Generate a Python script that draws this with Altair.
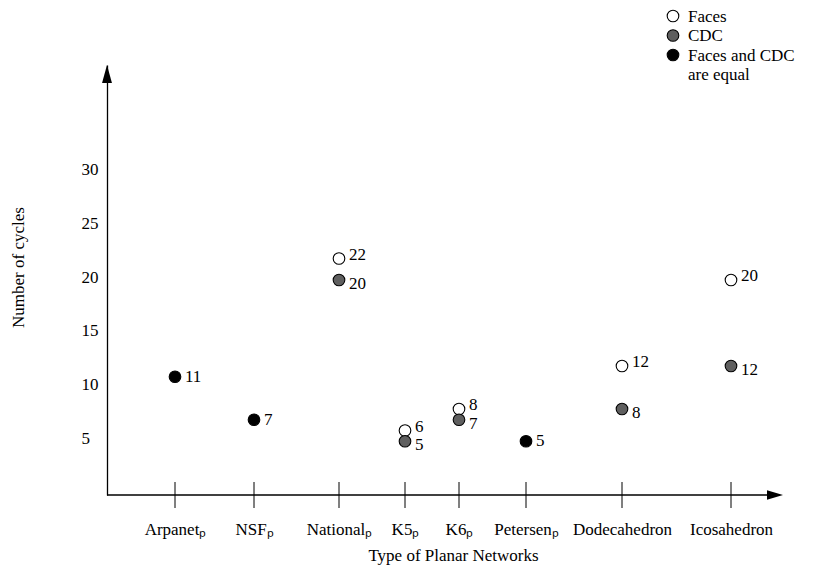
import altair as alt
import pandas as pd

categories = ["Arpanetₚ", "NSFₚ", "Nationalₚ", "K5ₚ", "K6ₚ", "Petersenₚ", "Dodecahedron", "Icosahedron"]
faces = [11, 7, 22, 6, 8, 5, 12, 20]
cdc = [11, 7, 20, 5, 7, 5, 8, 12]
y_ticks = [5, 10, 15, 20, 25, 30]
kind_domain = ["Faces", "CDC", "Equal"]
legend_labels = ["Faces", "CDC", "Faces and CDC\nare equal"]

rows = []
for i, (c, f, d) in enumerate(zip(categories, faces, cdc)):
    if f == d:
        rows.append({"idx": i, "cat": c, "kind": "Equal", "value": f})
    else:
        rows.append({"idx": i, "cat": c, "kind": "Faces", "value": f})
        rows.append({"idx": i, "cat": c, "kind": "CDC", "value": d})
df = pd.DataFrame(rows)
cat_df = pd.DataFrame({"idx": list(range(len(categories))), "cat": categories})

FONT = "Liberation Serif"
FS = 17
W, H = 668, 430
fill_range = ["white", "#5f5f5f", "black"]

# uneven spacing of the categories along the axis, as in the original figure
x_range = [68, 147, 232, 298, 352, 419, 515, 624]
xscale = alt.Scale(domain=list(range(len(categories))), range=x_range)
yscale = alt.Scale(domain=[0, 40])

label_expr = "[" + ",".join("'" + c + "'" for c in categories) + "][datum.value]"

x_axis = alt.Axis(
    title="Type of Planar Networks", titleFont=FONT, titleFontSize=FS, titleFontWeight="normal",
    titleColor="black", titleY=60, titleBaseline="middle",
    values=list(range(len(categories))), labelExpr=label_expr,
    labelFont=FONT, labelFontSize=FS, labelColor="black", labelPadding=26, labelAngle=0,
    labelOverlap=False, labelFlush=False, ticks=False, domain=False, grid=False,
)
y_axis = alt.Axis(
    title="Number of cycles", titleFont=FONT, titleFontSize=FS, titleFontWeight="normal",
    titleColor="black", titleX=-89, titleY=202, titleAlign="center", titleBaseline="middle",
    labelFont=FONT, labelFontSize=FS, labelColor="black", labelAlign="left", labelPadding=26,
    labelOffset=-3, values=y_ticks, ticks=False, domainColor="black", domainWidth=1.3, grid=False,
)

x_line = alt.Chart(pd.DataFrame({"a": [0]})).mark_rule(color="black", strokeWidth=1.3).encode(
    x=alt.value(0), x2=alt.value(W), y=alt.value(H)
)

points = alt.Chart(df).mark_point(
    shape="circle", filled=True, size=135, stroke="black", strokeWidth=1.1, opacity=1
).encode(
    x=alt.X("idx:Q", scale=xscale, axis=x_axis),
    y=alt.Y("value:Q", scale=yscale, axis=y_axis),
    fill=alt.Fill("kind:N", scale=alt.Scale(domain=kind_domain, range=fill_range), legend=None),
)

value_layers = []
for kind, dy in [("Faces", -4), ("CDC", 4), ("Equal", 0)]:
    value_layers.append(
        alt.Chart(df).transform_filter(alt.datum.kind == kind).mark_text(
            align="left", baseline="middle", dx=10, dy=dy, font=FONT, fontSize=FS, color="black"
        ).encode(
            x=alt.X("idx:Q", scale=xscale),
            y=alt.Y("value:Q", scale=yscale),
            text="value:Q",
        )
    )

ticks = alt.Chart(cat_df).mark_rule(color="black", strokeWidth=1).encode(
    x=alt.X("idx:Q", scale=xscale),
    y=alt.value(H - 13),
    y2=alt.value(H + 13),
)

one = pd.DataFrame({"a": [0]})
arrow_up = alt.Chart(one).mark_point(
    shape="M0,-1L0.55,1L-0.55,1Z", filled=True, fill="black", size=324, opacity=1, strokeWidth=0
).encode(x=alt.value(0), y=alt.value(9))
arrow_right = alt.Chart(one).mark_point(
    shape="M1,0L-1,0.6L-1,-0.6Z", filled=True, fill="black", size=256, opacity=1, strokeWidth=0
).encode(x=alt.value(W), y=alt.value(H))

legend_layers = []
for i, (kind, label) in enumerate(zip(kind_domain, legend_labels)):
    cy = -49 + i * 19.5
    ld = pd.DataFrame({"kind": [kind], "label": [label]})
    legend_layers.append(
        alt.Chart(ld).mark_point(
            shape="circle", filled=True, size=135, stroke="black", strokeWidth=1.1, opacity=1
        ).encode(
            x=alt.value(566), y=alt.value(cy),
            fill=alt.Fill("kind:N", scale=alt.Scale(domain=kind_domain, range=fill_range), legend=None),
        )
    )
    legend_layers.append(
        alt.Chart(ld).mark_text(
            align="left", baseline="alphabetic", font=FONT, fontSize=FS, color="black",
            lineBreak="\n", lineHeight=19,
        ).encode(x=alt.value(581), y=alt.value(cy + 5.5), text="label:N")
    )

chart = alt.layer(x_line, ticks, points, *value_layers, arrow_up, arrow_right, *legend_layers).properties(
    width=W, height=H,
    padding={"left": 99, "top": 57, "right": 45, "bottom": 70},
    autosize="none",
).configure_view(stroke=None)

chart.save("out.html", embed_options={"renderer": "svg", "actions": False})
